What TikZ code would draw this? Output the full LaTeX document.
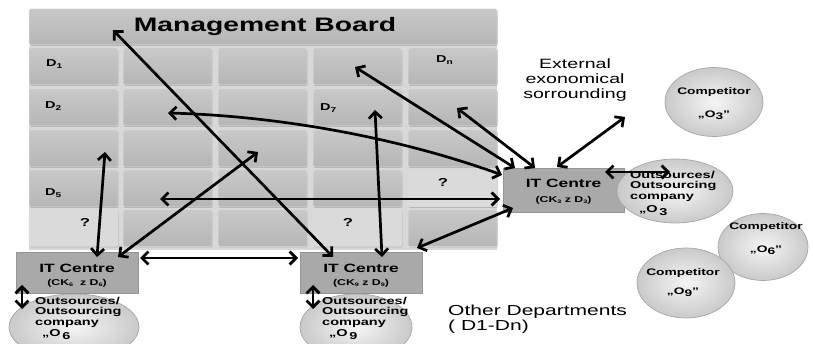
\documentclass[tikz,border=0pt]{standalone}
\usepackage{fontspec}
\setmainfont{Liberation Sans}[FakeStretch=1.45]
\usetikzlibrary{arrows.meta,shadows,shapes.geometric}

\definecolor{cellhi}{HTML}{C8C8C8}
\definecolor{celllo}{HTML}{B6B6B6}
\definecolor{gapgray}{HTML}{D8D8D8}
\definecolor{qgray}{HTML}{DADADA}
\definecolor{itgray}{HTML}{A9A9A9}
\definecolor{edgegray}{HTML}{959595}

\newcommand\fsz[2]{\fontsize{#1}{#2}\selectfont}
\newcommand\lowidx[1]{\raisebox{-1.2pt}{\fsz{7}{8}#1}}
\newcommand\tinyidx[1]{\raisebox{-1pt}{\fsz{5}{6}#1}}

\tikzset{
  cellbox/.style={draw=white!75!gray, line width=0.5pt, top color=cellhi, bottom color=celllo,
    rounded corners=1.5pt, minimum width=89pt, minimum height=37pt, inner sep=0pt,
    general shadow={fill=black!30, shadow xshift=0.7pt, shadow yshift=-1pt}},
  qcell/.style={fill=qgray, draw=none, minimum width=89pt, minimum height=37pt, inner sep=0pt},
  boardbar/.style={cellbox, minimum width=468pt, minimum height=36pt},
  itbox/.style={fill=itgray, draw=edgegray, line width=0.6pt, minimum width=122pt,
    minimum height=41pt, inner sep=0pt,
    general shadow={fill=black!25, shadow xshift=1pt, shadow yshift=-1.5pt}},
  oval/.style={ellipse, draw=gray!70, line width=0.7pt, inner color=gray!8,
    outer color=gray!42, inner sep=0pt},
  conn/.style={line width=2.7pt,
    {Straight Barb[length=6.5pt,width=13pt]}-{Straight Barb[length=6.5pt,width=13pt]}},
  dlabel/.style={font=\bfseries\fsz{10}{11}, inner sep=0pt, anchor=west},
  qlabel/.style={font=\bfseries\fsz{11.5}{12}, inner sep=0pt},
  ittitle/.style={font=\bfseries\fsz{12}{13}, inner sep=0pt},
  itsub/.style={font=\bfseries\fsz{8.5}{9}, inner sep=0pt},
  outtext/.style={font=\bfseries\fsz{10}{10.4}, align=left, inner sep=0pt, anchor=north west},
  comptext/.style={font=\bfseries\fsz{9.5}{10}, inner sep=0pt},
  plaintext/.style={font=\fsz{13.5}{15}, inner sep=0pt},
}

\begin{document}
\begin{tikzpicture}[x=1pt,y=-1pt]
\useasboundingbox (0,0) rectangle (813,344);
\clip (0,0) rectangle (813,344);

% background of the department grid
\fill[gapgray] (29,46) rectangle (497,250);

% management board bar
\node[boardbar] (board) at (263,27) {};
\node[font=\bfseries\fsz{19.5}{20}, inner sep=0pt] (boardtxt) at (265,27) {Management Board};

% grid of departments
\foreach \c/\x in {1/73.5,2/167.5,3/262.5,4/357.5,5/452.5}{
  \foreach \r/\y in {1/66.5,2/107.5,3/148.5,4/188.5,5/228}{
    \node[cellbox] (c\r\c) at (\x,\y) {};
  }
}
% departments without an IT centre
\node[qcell] (q51) at (73.5,228) {};
\node[qcell] (q54) at (357.5,228) {};
\node[qcell] (q45) at (452.5,188.5) {};
\node[qlabel] (q51t) at (85,222) {?};
\node[qlabel] (q54t) at (348,222) {?};
\node[qlabel] (q45t) at (443,182) {?};

% department labels
\node[dlabel] (d1) at (46,64) {D\lowidx{1}};
\node[dlabel] (d2) at (45,106) {D\lowidx{2}};
\node[dlabel] (d5) at (45,193) {D\lowidx{5}};
\node[dlabel] (d7) at (320,108) {D\lowidx{7}};
\node[dlabel] (dn) at (436,60) {D\lowidx{n}};

% outsourcing companies
\node[oval, minimum width=130pt, minimum height=66pt] (o6) at (74,327) {};
\node[oval, minimum width=112pt, minimum height=66pt] (o9) at (356,327) {};

% IT centres
\node[itbox] (itA) at (77,272.5) {};
\node[ittitle] (itAt) at (77,268) {IT Centre};
\node[itsub] (itAs) at (77,283) {(CK\tinyidx{6}\ \ z D\tinyidx{6})};
\node[itbox] (itB) at (361,272.5) {};
\node[ittitle] (itBt) at (361,268) {IT Centre};
\node[itsub] (itBs) at (361,283) {(CK\tinyidx{9} z D\tinyidx{9})};
\node[itbox, minimum width=121pt, minimum height=44pt] (itC) at (563.5,190) {};
\node[ittitle] (itCt) at (563.5,183) {IT Centre};
\node[itsub] (itCs) at (563.5,200) {(CK\tinyidx{3} z D\tinyidx{3})};

\node[oval, minimum width=116pt, minimum height=64pt] (o3) at (675,191) {};

\node[outtext] (o6t) at (35,297) {Outsources/\\Outsourcing\\company\\[1pt]\hspace{7pt}„O\,\raisebox{-2.5pt}{6}};
\node[outtext] (o9t) at (322,297) {Outsources/\\Outsourcing\\company\\[1pt]\hspace{7pt}„O\,\raisebox{-2.5pt}{9}};
\node[outtext] (o3t) at (630,171) {Outsources/\\Outsourcing\\company\\[3pt]\hspace{9pt}„O\,\raisebox{-2.5pt}{3}};

% competitors
\node[oval, minimum width=98pt, minimum height=69pt] (k3) at (714,102) {};
\node[comptext] (k3a) at (714,92) {Competitor};
\node[comptext] (k3b) at (714,115) {„O\raisebox{-2pt}{3}”};
\node[oval, minimum width=90pt, minimum height=67pt] (k6) at (763,247) {};
\node[comptext] (k6a) at (766,227) {Competitor};
\node[comptext] (k6b) at (766,250) {„O\raisebox{-2pt}{6}”};
\node[oval, minimum width=98pt, minimum height=70pt] (k9) at (686,283) {};
\node[comptext] (k9a) at (683,273) {Competitor};
\node[comptext] (k9b) at (683,292) {„O\raisebox{-2pt}{9}”};

% free text
\node[plaintext, align=center] (ext) at (575,80) {External\\exonomical\\sorrounding};
\node[plaintext, font=\fsz{14.5}{15}, align=left, anchor=west] (other) at (448,319) {Other Departments\\( D1-Dn)};

% connector end points
\coordinate (pBoard) at (113,30);
\coordinate (pBtop) at (333,257);
\coordinate (pAright) at (118,257);
\coordinate (pMid) at (258,152);
\coordinate (pD3) at (105,152);
\coordinate (pAtop) at (97,257);
\coordinate (pAside) at (140,258);
\coordinate (pBside) at (298,258);
\coordinate (pD7) at (375,110);
\coordinate (pBtop2) at (382,257);
\coordinate (pBcorner) at (417,248);
\coordinate (pCcorner) at (513,208);
\coordinate (pD5) at (160,199);
\coordinate (pCleft) at (500,199);
\coordinate (pD2) at (168,113);
\coordinate (pCleft2) at (502,175);
\coordinate (pR1) at (355,67);
\coordinate (pCtop1) at (515,168);
\coordinate (pR2) at (457,108);
\coordinate (pCtop2) at (535,168);
\coordinate (pCtop3) at (557,167);
\coordinate (pExt) at (625,117);
\coordinate (pCright) at (605,172);
\coordinate (pO3) at (670,172);
\coordinate (pAbot) at (22,285);
\coordinate (pO6) at (22,309);
\coordinate (pBbot) at (313,285);
\coordinate (pO9) at (313,309);

% connectors
\draw[conn] (pBoard) -- (pBtop);
\draw[conn] (pAright) -- (pMid);
\draw[conn] (pD3) -- (pAtop);
\draw[conn] (pAside) -- (pBside);
\draw[conn] (pD7) -- (pBtop2);
\draw[conn] (pBcorner) -- (pCcorner);
\draw[conn] (pD5) -- (pCleft);
\draw[conn] (pD2) .. controls (280,116) and (400,138) .. (pCleft2);
\draw[conn] (pR1) -- (pCtop1);
\draw[conn] (pR2) -- (pCtop2);
\draw[conn] (pCtop3) -- (pExt);
\draw[conn] (pCright) -- (pO3);
\draw[conn] (pAbot) -- (pO6);
\draw[conn] (pBbot) -- (pO9);
\end{tikzpicture}
\end{document}
